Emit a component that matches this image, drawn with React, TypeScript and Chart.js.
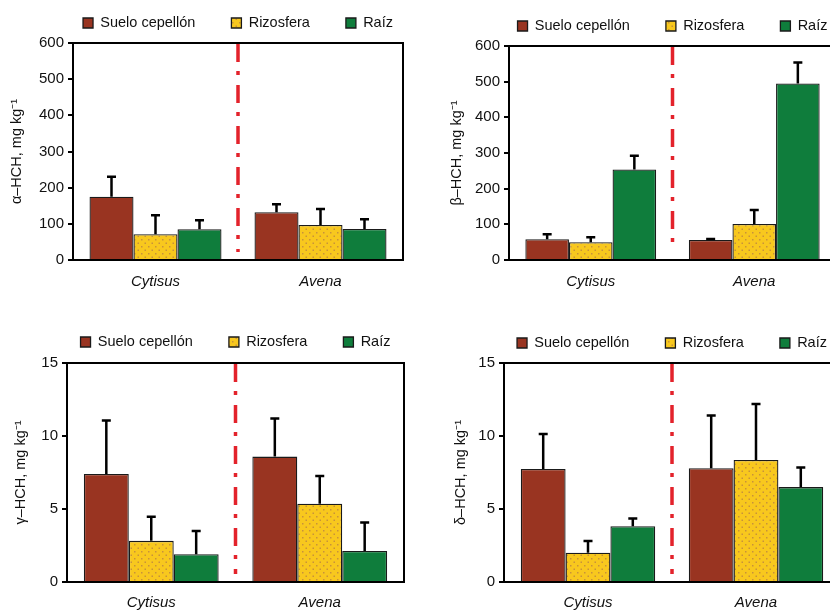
import React, { useEffect, useRef } from 'react';
import { Chart, registerables } from 'chart.js';

Chart.register(...registerables);

// ---------- data ----------
const categories = ['Cytisus', 'Avena'];
const seriesNames = ['Suelo cepellón', 'Rizosfera', 'Raíz'];

const alphaTitle = 'α–HCH, mg kg⁻¹';
const alphaSuelo = [175, 132];
const alphaSueloErr = [55, 22];
const alphaRizosfera = [71, 97];
const alphaRizosferaErr = [53, 44];
const alphaRaiz = [85, 86];
const alphaRaizErr = [25, 27];

const betaTitle = 'β–HCH, mg kg⁻¹';
const betaSuelo = [58, 56];
const betaSueloErr = [14, 3];
const betaRizosfera = [50, 101];
const betaRizosferaErr = [14, 39];
const betaRaiz = [254, 495];
const betaRaizErr = [38, 59];

const gammaTitle = 'γ–HCH, mg kg⁻¹';
const gammaSuelo = [7.4, 8.59];
const gammaSueloErr = [3.66, 2.61];
const gammaRizosfera = [2.82, 5.36];
const gammaRizosferaErr = [1.65, 1.9];
const gammaRaiz = [1.9, 2.13];
const gammaRaizErr = [1.6, 1.95];

const deltaTitle = 'δ–HCH, mg kg⁻¹';
const deltaSuelo = [7.74, 7.79];
const deltaSueloErr = [2.4, 3.61];
const deltaRizosfera = [2.0, 8.36];
const deltaRizosferaErr = [0.8, 3.84];
const deltaRaiz = [3.82, 6.5];
const deltaRaizErr = [0.53, 1.35];

const ticksLarge = [0, 100, 200, 300, 400, 500, 600];
const ticksSmall = [0, 5, 10, 15];

// ---------- styles ----------
const BROWN = '#993421';
const YELLOW = '#f8c81e';
const DOT = '#c8923a';
const GREEN = '#0f7d3c';
const RED = '#e3222b';
const EDGE = '#1a1a1a';
const FONT = "'Liberation Sans', Arial, Helvetica, sans-serif";

const LEGEND_FS = 14.5;
const LEGEND_PAD = 36;

type Spec = {
  title: string;
  values: number[][];
  errors: number[][];
  ticks: number[];
};

type Layout = {
  x0: number; y0: number; left: number; right: number; top: number; bottom: number;
  legendY: number; titleX: number; h: number;
};

const specs: Spec[] = [
  { title: alphaTitle, values: [alphaSuelo, alphaRizosfera, alphaRaiz], errors: [alphaSueloErr, alphaRizosferaErr, alphaRaizErr], ticks: ticksLarge },
  { title: betaTitle, values: [betaSuelo, betaRizosfera, betaRaiz], errors: [betaSueloErr, betaRizosferaErr, betaRaizErr], ticks: ticksLarge },
  { title: gammaTitle, values: [gammaSuelo, gammaRizosfera, gammaRaiz], errors: [gammaSueloErr, gammaRizosferaErr, gammaRaizErr], ticks: ticksSmall },
  { title: deltaTitle, values: [deltaSuelo, deltaRizosfera, deltaRaiz], errors: [deltaSueloErr, deltaRizosferaErr, deltaRaizErr], ticks: ticksSmall },
];

const layouts: Layout[] = [
  { x0: 0, y0: 0, left: 73, right: 403, top: 43, bottom: 260, legendY: 23, titleX: 17, h: 305 },
  { x0: 415, y0: 0, left: 509, right: 836, top: 46, bottom: 260, legendY: 26, titleX: 457, h: 305 },
  { x0: 0, y0: 305, left: 67, right: 404, top: 363, bottom: 582, legendY: 342, titleX: 21, h: 322 },
  { x0: 415, y0: 305, left: 504, right: 840, top: 363, bottom: 582, legendY: 343, titleX: 461, h: 322 },
];

// ---------- plugins ----------
const errorBarsPlugin = {
  id: 'errorBars',
  afterDatasetsDraw(chart: any) {
    const ctx = chart.ctx;
    const yScale = chart.scales.y;
    chart.data.datasets.forEach((ds: any, i: number) => {
      const meta = chart.getDatasetMeta(i);
      meta.data.forEach((bar: any, j: number) => {
        const v = ds.data[j];
        const e = ds.errors ? ds.errors[j] : 0;
        if (!e) return;
        const yTop = yScale.getPixelForValue(v + e);
        ctx.save();
        ctx.strokeStyle = '#000';
        ctx.lineWidth = 2.5;
        ctx.beginPath();
        ctx.moveTo(bar.x, bar.y);
        ctx.lineTo(bar.x, yTop);
        ctx.moveTo(bar.x - 4.5, yTop);
        ctx.lineTo(bar.x + 4.5, yTop);
        ctx.stroke();
        ctx.restore();
      });
    });
  },
};

const framePlugin = {
  id: 'frameAndDivider',
  afterDatasetsDraw(chart: any) {
    const ctx = chart.ctx;
    const a = chart.chartArea;
    const xs = chart.scales.x;
    const xm = (xs.getPixelForValue(0) + xs.getPixelForValue(1)) / 2;
    ctx.save();
    ctx.strokeStyle = RED;
    ctx.lineWidth = 3.5;
    ctx.setLineDash([18, 9, 4, 10]);
    ctx.beginPath();
    ctx.moveTo(xm, a.top + 1);
    ctx.lineTo(xm, a.bottom - 8);
    ctx.stroke();
    ctx.setLineDash([]);
    ctx.strokeStyle = '#000';
    ctx.lineWidth = 2;
    ctx.beginPath();
    ctx.moveTo(a.left, a.top);
    ctx.lineTo(a.right, a.top);
    ctx.lineTo(a.right, a.bottom);
    ctx.stroke();
    ctx.restore();
  },
};

function makeDotPattern(ctx: CanvasRenderingContext2D): CanvasPattern | string {
  const c = document.createElement('canvas');
  c.width = 7;
  c.height = 7;
  const g = c.getContext('2d');
  if (!g) return YELLOW;
  g.fillStyle = YELLOW;
  g.fillRect(0, 0, 7, 7);
  g.fillStyle = DOT;
  g.fillRect(1, 1, 1.5, 1.5);
  g.fillRect(4.5, 4.5, 1.5, 1.5);
  return ctx.createPattern(c, 'repeat') || YELLOW;
}

function Panel({ spec, lay }: { spec: Spec; lay: Layout }) {
  const ref = useRef<HTMLCanvasElement>(null);
  const side = lay.left - lay.x0;
  const W = 2 * side + (lay.right - lay.left);
  const H = lay.h;

  useEffect(() => {
    const canvas = ref.current;
    if (!canvas) return;
    const ctx = canvas.getContext('2d');
    if (!ctx) return;
    const dots = makeDotPattern(ctx);

    const legendC = lay.legendY - lay.y0;
    const topC = lay.top - lay.y0;
    const bottomC = lay.bottom - lay.y0;
    const padTop = legendC - LEGEND_PAD - LEGEND_FS / 2;
    const spacer = Math.max(0.5, topC - padTop - (LEGEND_FS + LEGEND_PAD + 10));
    const xAxisH = H - bottomC;
    const titleFs = 14.5;
    const titlePadTop = lay.titleX - lay.x0 - (titleFs * 1.2) / 2;
    const fills = [BROWN, dots, GREEN];
    const tks = spec.ticks;

    const chart = new Chart(canvas, {
      type: 'bar',
      data: {
        labels: categories,
        datasets: seriesNames.map((name, i) => ({
          label: name,
          data: spec.values[i],
          errors: spec.errors[i],
          backgroundColor: fills[i],
          borderColor: EDGE,
          borderWidth: 1.3,
          categoryPercentage: 0.8,
          barPercentage: 1.0,
        })) as any,
      },
      options: {
        responsive: false,
        animation: false,
        devicePixelRatio: 1,
        font: { family: FONT },
        color: '#111',
        layout: { padding: { top: padTop, left: 0, right: 0, bottom: 0 } },
        plugins: {
          tooltip: { enabled: false },
          legend: {
            display: true,
            position: 'top',
            labels: {
              boxWidth: 10,
              boxHeight: 10,
              padding: LEGEND_PAD,
              color: '#111',
              font: { family: FONT, size: LEGEND_FS },
            },
          },
          title: {
            display: true,
            text: '',
            weight: 500,
            padding: 0,
            font: { size: spacer, lineHeight: 1 },
          } as any,
        },
        scales: {
          x: {
            type: 'category',
            offset: true,
            grid: { display: false, drawTicks: false },
            border: { display: true, color: '#000', width: 2 },
            ticks: {
              padding: lay.y0 > 0 ? 12 : 13,
              color: '#111',
              font: { family: FONT, size: 15, style: 'italic' },
            },
            afterFit: (s: any) => { s.height = xAxisH; },
          },
          y: {
            type: 'linear',
            position: 'left',
            min: tks[0],
            max: tks[tks.length - 1],
            ticks: {
              stepSize: tks[1] - tks[0],
              padding: 4,
              color: '#111',
              font: { family: FONT, size: 15 },
            },
            grid: { drawOnChartArea: false, drawTicks: true, tickLength: 5, color: '#000', lineWidth: 2 },
            border: { display: true, color: '#000', width: 2 },
            title: {
              display: true,
              text: spec.title,
              color: '#111',
              font: { family: FONT, size: titleFs },
              padding: { top: titlePadTop, bottom: 0 },
            },
            afterFit: (s: any) => { s.width = side; },
          },
          yR: {
            type: 'linear',
            position: 'right',
            display: true,
            grid: { display: false, drawTicks: false },
            border: { display: false },
            ticks: { display: false },
            afterFit: (s: any) => { s.width = side; },
          },
        },
      } as any,
      plugins: [errorBarsPlugin, framePlugin],
    });
    return () => chart.destroy();
  }, []);

  return (
    <canvas
      ref={ref}
      width={W}
      height={H}
      style={{ position: 'absolute', left: lay.x0, top: lay.y0, width: W, height: H }}
    />
  );
}

export default function App() {
  return (
    <div
      style={{
        position: 'fixed',
        left: 0,
        top: 0,
        width: 830,
        height: 610,
        overflow: 'hidden',
        background: '#fff',
      }}
    >
      {specs.map((s, i) => (
        <Panel key={i} spec={s} lay={layouts[i]} />
      ))}
    </div>
  );
}
